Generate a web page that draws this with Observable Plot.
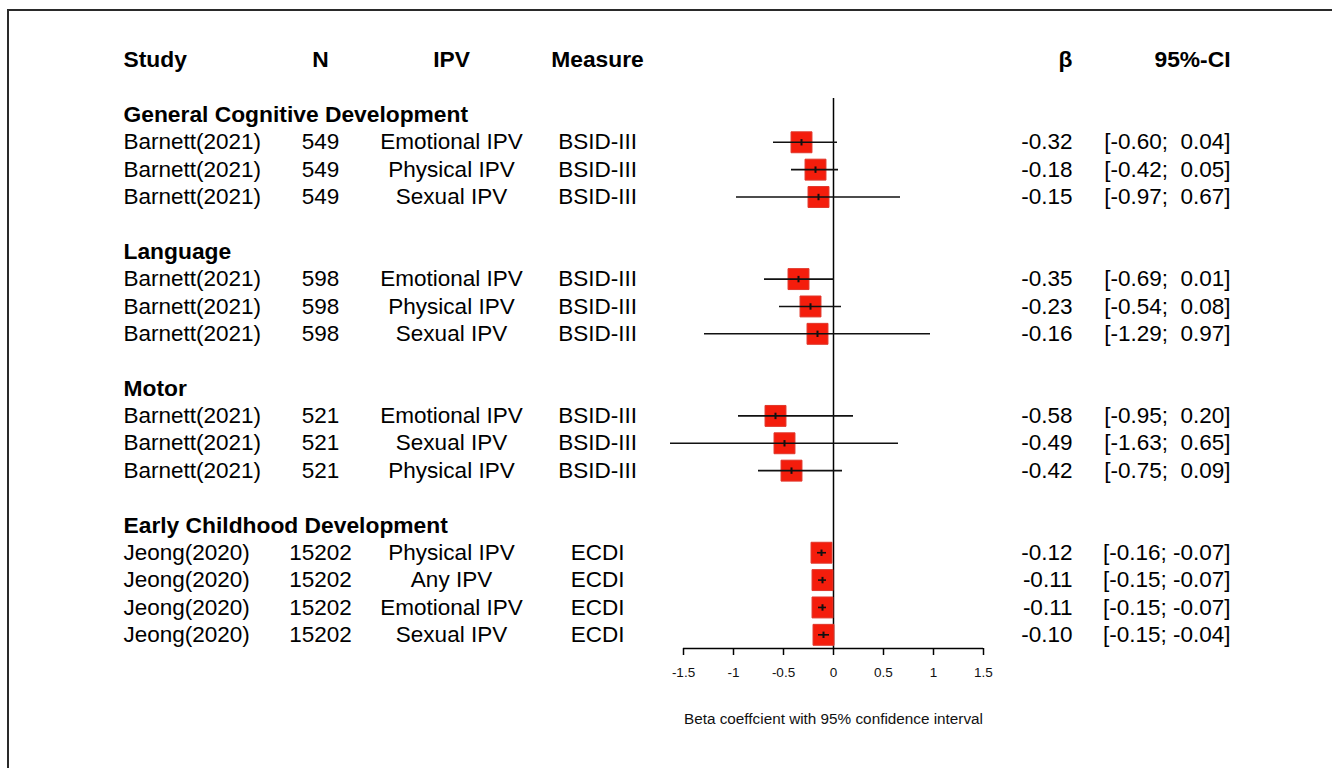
<!DOCTYPE html>
<html>
<head>
<meta charset="utf-8">
<script src="https://cdn.jsdelivr.net/npm/d3@7"></script>
<script src="https://cdn.jsdelivr.net/npm/@observablehq/plot@0.6"></script>
<style>
  html, body { margin: 0; padding: 0; background: #fff; overflow: hidden; }
  #wrap { position: relative; width: 1332px; height: 768px; }
  #frame { position: absolute; left: 7px; top: 9px; right: -10px; bottom: -10px;
           border-top: 2px solid #2a2a2a; border-left: 2px solid #2a2a2a; }
  #chart { position: absolute; left: 0; top: 0; }
  #chart svg text { white-space: pre; }
</style>
</head>
<body>
<div id="wrap"><div id="frame"></div><div id="chart"></div></div>
<script>
// ---- data ----
const groups = ["General Cognitive Development", "Language", "Motor", "Early Childhood Development"];
const groupOf = [0, 0, 0, 1, 1, 1, 2, 2, 2, 3, 3, 3, 3];
const studies = ["Barnett(2021)", "Barnett(2021)", "Barnett(2021)", "Barnett(2021)", "Barnett(2021)", "Barnett(2021)",
                 "Barnett(2021)", "Barnett(2021)", "Barnett(2021)", "Jeong(2020)", "Jeong(2020)", "Jeong(2020)", "Jeong(2020)"];
const ns = [549, 549, 549, 598, 598, 598, 521, 521, 521, 15202, 15202, 15202, 15202];
const ipvTypes = ["Emotional IPV", "Physical IPV", "Sexual IPV", "Emotional IPV", "Physical IPV", "Sexual IPV",
                  "Emotional IPV", "Sexual IPV", "Physical IPV", "Physical IPV", "Any IPV", "Emotional IPV", "Sexual IPV"];
const measures = ["BSID-III", "BSID-III", "BSID-III", "BSID-III", "BSID-III", "BSID-III",
                  "BSID-III", "BSID-III", "BSID-III", "ECDI", "ECDI", "ECDI", "ECDI"];
const betas = [-0.32, -0.18, -0.15, -0.35, -0.23, -0.16, -0.58, -0.49, -0.42, -0.12, -0.11, -0.11, -0.10];
const lowers = [-0.60, -0.42, -0.97, -0.69, -0.54, -1.29, -0.95, -1.63, -0.75, -0.16, -0.15, -0.15, -0.15];
const uppers = [0.04, 0.05, 0.67, 0.01, 0.08, 0.97, 0.20, 0.65, 0.09, -0.07, -0.07, -0.07, -0.04];
const xTicks = [-1.5, -1, -0.5, 0, 0.5, 1, 1.5];
const columnHeaders = ["Study", "N", "IPV", "Measure", "β", "95%-CI"];
const axisTitle = "Beta coeffcient with 95% confidence interval";

// ---- build row layout (row index) ----
const rows = [];
const groupRows = [];
let idx = 0;
groups.forEach((g, gi) => {
  groupRows.push({label: g, row: idx});
  idx++;
  groupOf.forEach((gg, i) => {
    if (gg !== gi) return;
    rows.push({
      row: idx,
      study: studies[i],
      n: String(ns[i]),
      ipv: ipvTypes[i],
      measure: measures[i],
      beta: betas[i],
      lower: lowers[i],
      upper: uppers[i],
      betaText: betas[i].toFixed(2),
      ciText: "[" + lowers[i].toFixed(2) + ";" + (uppers[i] >= 0 ? "  " : " ") + uppers[i].toFixed(2) + "]"
    });
    idx++;
  });
  idx++; // blank line
});
const lastRow = idx - 2;
const headerRow = -2;
const yDomain = [-0.6, lastRow + 0.5];

const header = [{row: headerRow}];

// column placement relative to plotting frame
const colStudy = {frameAnchor: "left", dx: -560, textAnchor: "start"};
const colN = {frameAnchor: "left", dx: -363, textAnchor: "middle"};
const colIPV = {frameAnchor: "left", dx: -232, textAnchor: "middle"};
const colMeasure = {frameAnchor: "left", dx: -86, textAnchor: "middle"};
const colBeta = {frameAnchor: "right", dx: 89, textAnchor: "end"};
const colCI = {frameAnchor: "right", dx: 247, textAnchor: "end"};
const colDefs = [colStudy, colN, colIPV, colMeasure, colBeta, colCI];

const FS = 22.5;
const FSB = 22.8;
const boxFill = "#f41d0c";
const boxStroke = "#e0362a";

const vTick = {
  draw(context, size) {
    const h = Math.sqrt(size / Math.PI);
    context.moveTo(0, -h);
    context.lineTo(0, h);
  }
};

const marks = [];
// column headers
columnHeaders.forEach((h, i) => {
  marks.push(Plot.text(header, {y: "row", text: () => h, fontSize: FSB, fontWeight: "bold", fill: "#000", ...colDefs[i]}));
});
// group headers
marks.push(Plot.text(groupRows, {y: "row", text: "label", fontSize: FSB, fontWeight: "bold", fill: "#000", ...colStudy}));
// row texts
[["study", colStudy], ["n", colN], ["ipv", colIPV], ["measure", colMeasure], ["betaText", colBeta], ["ciText", colCI]]
  .forEach(([field, col]) => {
    marks.push(Plot.text(rows, {y: "row", text: field, fontSize: FS, fill: "#000", ...col}));
  });

// zero line
marks.push(Plot.ruleX([0], {stroke: "#000", strokeWidth: 1.5}));
// axis line
marks.push(Plot.ruleY([yDomain[1]], {x1: xTicks[0], x2: xTicks[xTicks.length - 1], stroke: "#000", strokeWidth: 1.5}));
// boxes
marks.push(Plot.dot(rows, {x: "beta", y: "row", symbol: "square", r: 11.8, fill: boxFill, stroke: boxStroke, strokeWidth: 1}));
// CI lines
marks.push(Plot.ruleY(rows, {y: "row", x1: "lower", x2: "upper", stroke: "#111", strokeWidth: 1.6}));
// point estimate ticks
marks.push(Plot.dot(rows, {x: "beta", y: "row", symbol: vTick, r: 3.2, fill: "none", stroke: "#111", strokeWidth: 2}));
// x axis ticks
marks.push(Plot.axisX({ticks: xTicks, tickSize: 7, tickFormat: () => "", stroke: "#000", strokeWidth: 1.5}));
// x tick labels
marks.push(Plot.text(xTicks, {x: d => d, text: d => String(d), frameAnchor: "bottom", dy: 28, fontSize: 13.5, fill: "#111"}));
// axis title
marks.push(Plot.text([axisTitle], {frameAnchor: "bottom", dy: 75, text: d => d, fontSize: 15.3, fill: "#111"}));

const chart = Plot.plot({
  width: 1332,
  height: 768,
  marginLeft: 683,
  marginRight: 349,
  marginTop: 98,
  marginBottom: 120,
  x: {domain: [xTicks[0], xTicks[xTicks.length - 1]], label: null},
  y: {domain: yDomain, reverse: true, axis: null},
  style: {fontFamily: "'Liberation Sans', Arial, Helvetica, sans-serif", color: "#000", background: "transparent", overflow: "visible"},
  marks
});
document.getElementById("chart").appendChild(chart);
</script>
</body>
</html>
